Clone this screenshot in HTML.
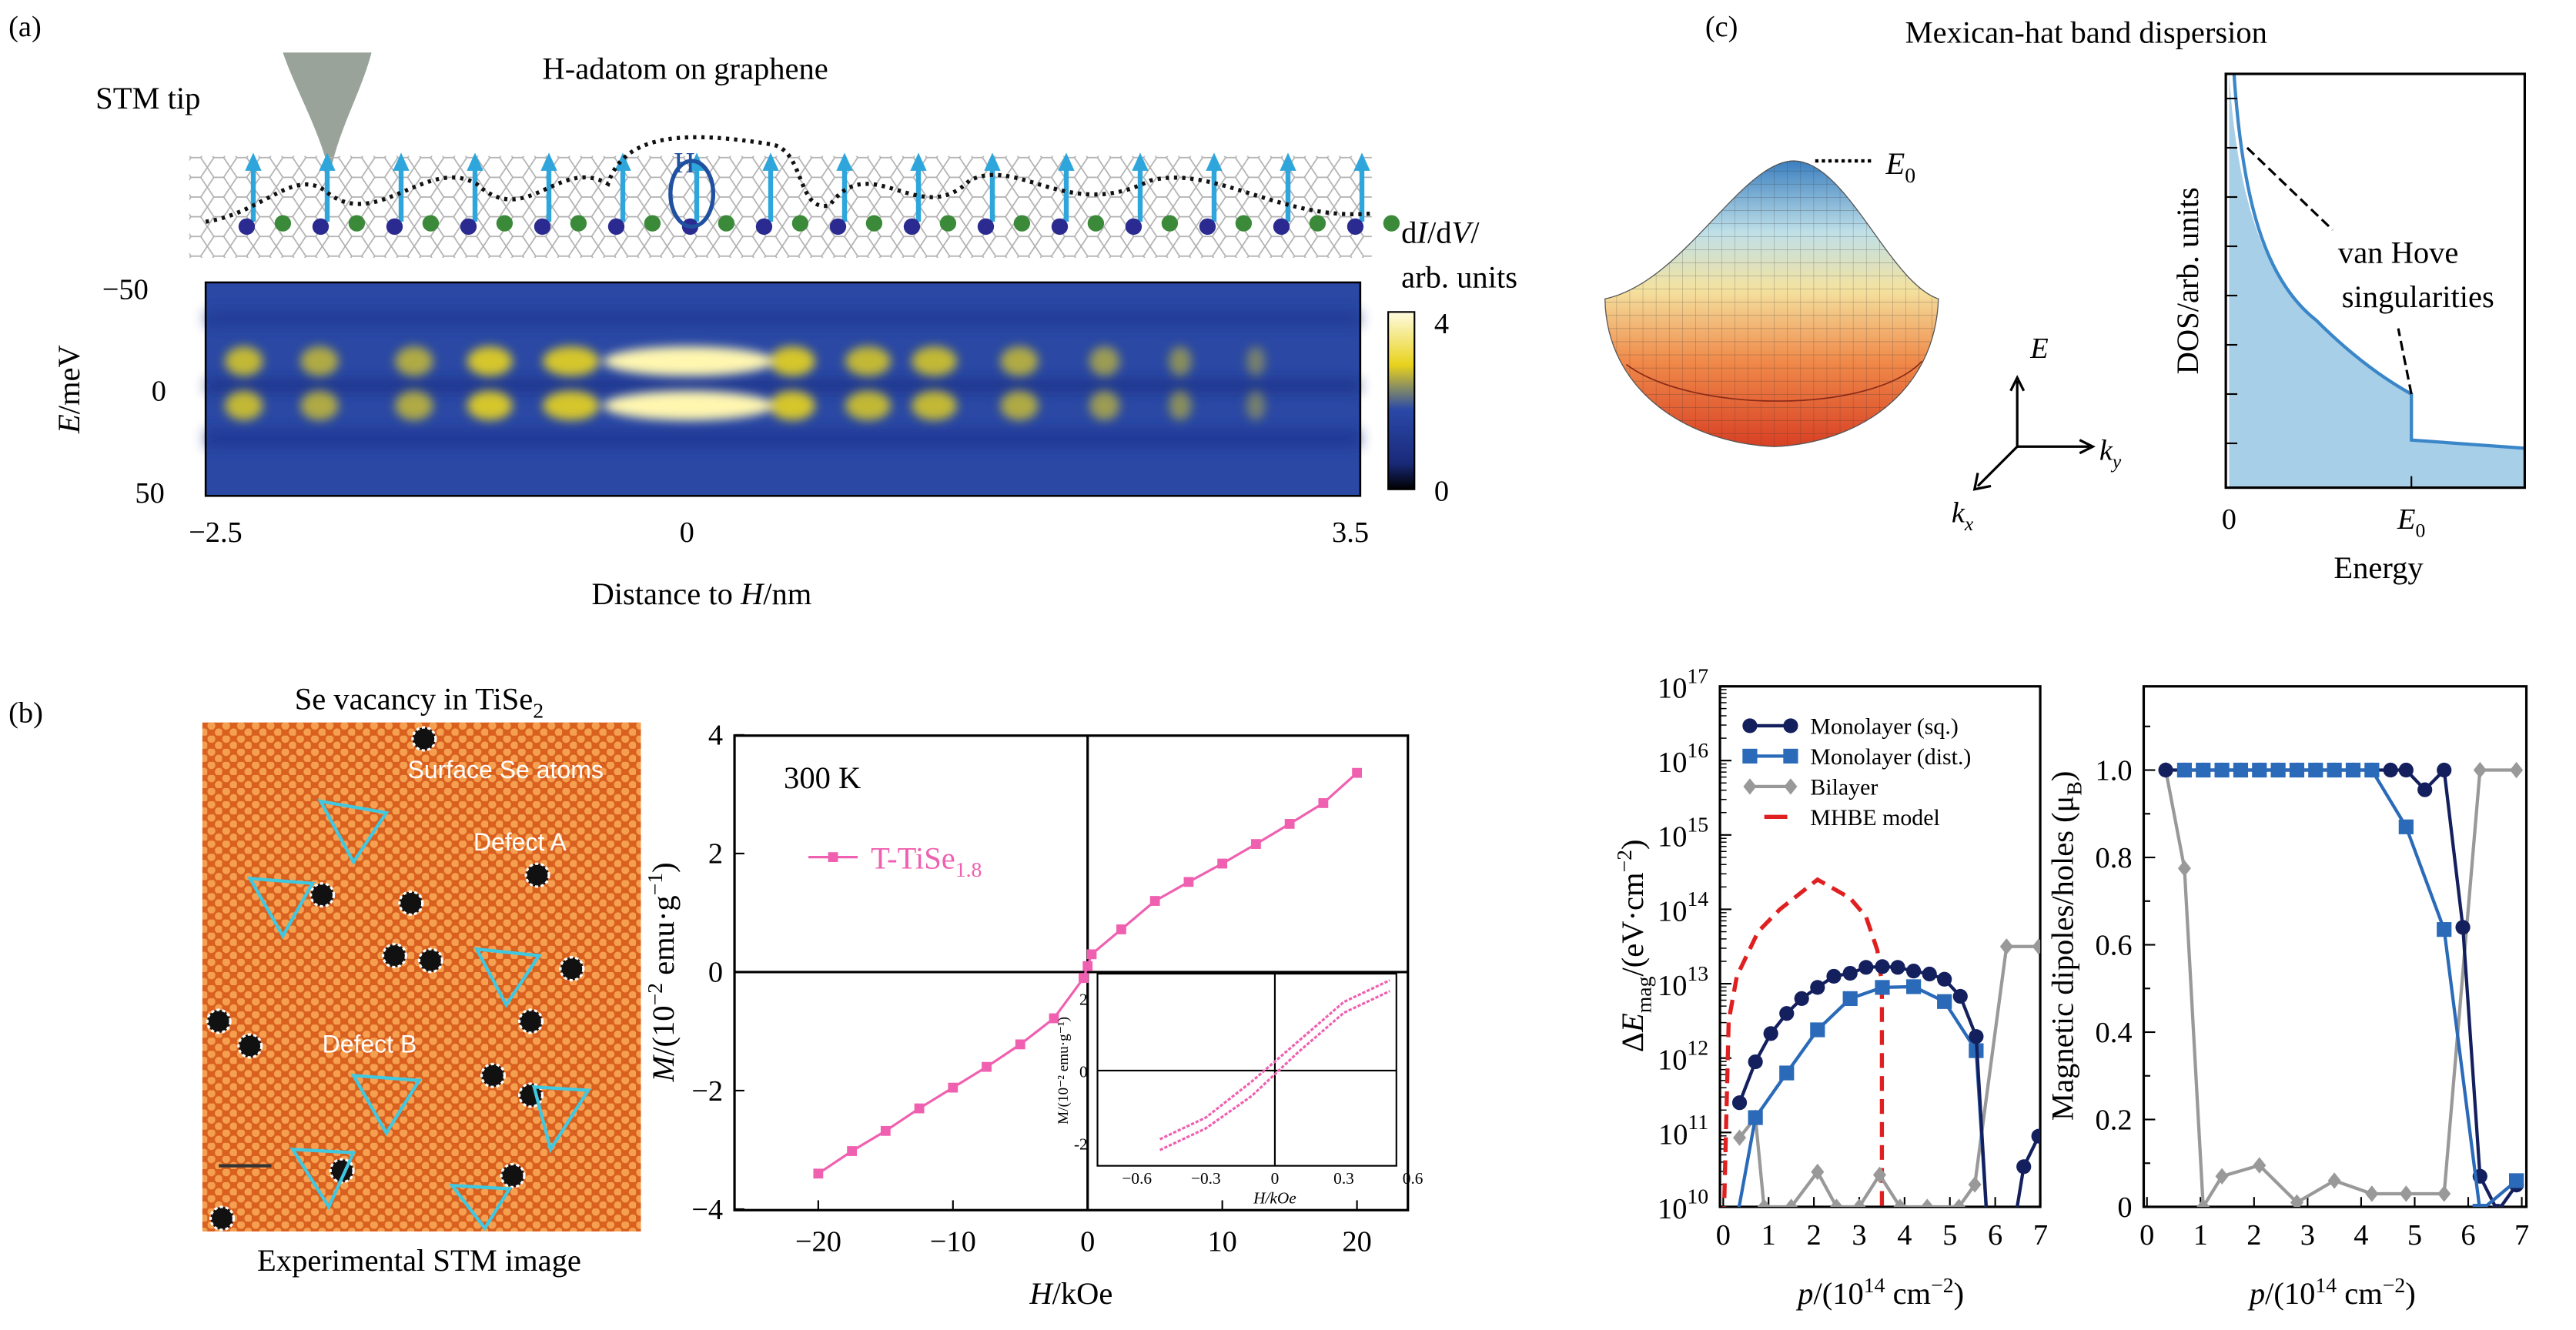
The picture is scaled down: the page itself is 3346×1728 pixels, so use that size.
<!DOCTYPE html>
<html><head><meta charset="utf-8"><style>
html,body{margin:0;padding:0;background:#fff;}
svg{display:block;font-family:"Liberation Serif","DejaVu Serif",serif;}
.s{font-family:"Liberation Sans",sans-serif;}
</style></head><body>
<svg id="fig" width="3346" height="1728" viewBox="0 0 1568 810" xmlns="http://www.w3.org/2000/svg">
<defs>
<filter id="blur" x="-50%" y="-50%" width="200%" height="200%"><feGaussianBlur stdDeviation="3"/></filter>
<filter id="blur2" x="-10%" y="-50%" width="120%" height="200%"><feGaussianBlur stdDeviation="4"/></filter>
<linearGradient id="cbar" x1="0" y1="0" x2="0" y2="1"><stop offset="0" stop-color="#fffbe0"/><stop offset="0.3" stop-color="#e8d21c"/><stop offset="0.55" stop-color="#2a49a8"/><stop offset="0.85" stop-color="#1a2a7a"/><stop offset="1" stop-color="#000"/></linearGradient>
<linearGradient id="hat" x1="0" y1="0" x2="0" y2="1"><stop offset="0" stop-color="#3b7fc0"/><stop offset="0.25" stop-color="#bfe0e8"/><stop offset="0.45" stop-color="#f4e2a0"/><stop offset="0.7" stop-color="#f08a4a"/><stop offset="1" stop-color="#d84024"/></linearGradient>
<pattern id="atoms" width="9" height="8" patternUnits="userSpaceOnUse"><rect width="9" height="8" fill="#d9601e"/><circle cx="2.5" cy="2" r="2.4" fill="#f5a050"/><circle cx="7" cy="6" r="2.4" fill="#f5a050"/></pattern>
<pattern id="hex" width="14" height="12" patternUnits="userSpaceOnUse"><path d="M0 6 L4 0 L10 0 L14 6 L10 12 L4 12 Z" fill="none" stroke="#b0b0b0" stroke-width="0.8"/></pattern>
<pattern id="grid" width="8" height="8" patternUnits="userSpaceOnUse"><path d="M0 0 L8 0 M0 0 L0 8" stroke="#333" stroke-width="0.4" opacity="0.5"/></pattern>
<clipPath id="clipL"><rect x="1047" y="418" width="195" height="317"/></clipPath>
<clipPath id="clipR"><rect x="1305" y="418" width="233" height="317"/></clipPath>
<clipPath id="clipH"><path d="M977 182 C1025 172 1060 98 1092 98 C1124 98 1150 172 1180 182 C1178 240 1130 270 1080 272 C1030 270 978 240 977 182 Z"/></clipPath>
</defs>

<!-- Panel (a) -->
<text x="5" y="22" font-size="18">(a)</text>
<text x="58" y="66" font-size="19">STM tip</text>
<text x="330" y="48" font-size="19">H-adatom on graphene</text>
<path d="M172 32 L226 32 C220 55 208 75 202 100 L199 100 C192 75 180 55 172 32 Z" fill="#9aa39a"/>
<rect x="115" y="95" width="720" height="62" fill="url(#hex)"/>
<g id="adatoms"></g>
<path d="M125 135 C160 130 180 100 200 118 C230 140 260 95 290 112 C320 140 340 95 370 112 C380 80 420 80 470 88 C490 92 485 130 505 125 C530 90 560 140 590 110 C620 95 650 135 700 110 C740 100 780 135 835 130" fill="none" stroke="#111" stroke-width="2.5" stroke-dasharray="2 3"/>
<ellipse cx="421" cy="118" rx="13" ry="20" fill="none" stroke="#2050a0" stroke-width="2.5"/>
<text x="410" y="105" font-size="18" fill="#2050a0">H</text>
<rect x="125" y="172" width="703" height="130" fill="#2a48a4"/>
<g filter="url(#blur2)" opacity="0.7"><rect x="125" y="232" width="703" height="6" fill="#15287a"/><rect x="125" y="262" width="703" height="10" fill="#1a3090"/><rect x="125" y="190" width="703" height="8" fill="#1e3590"/></g>
<g id="blobs" filter="url(#blur)"></g>
<rect x="125" y="172" width="703" height="130" fill="none" stroke="#000" stroke-width="1.2"/>
<text x="62" y="182" font-size="18">−50</text>
<text x="92" y="244" font-size="18">0</text>
<text x="82" y="306" font-size="18">50</text>
<text transform="translate(48,237) rotate(-90)" font-size="19" text-anchor="middle"><tspan font-style="italic">E</tspan>/meV</text>
<text x="131" y="330" font-size="18" text-anchor="middle">−2.5</text>
<text x="418" y="330" font-size="18" text-anchor="middle">0</text>
<text x="822" y="330" font-size="18" text-anchor="middle">3.5</text>
<text x="427" y="368" font-size="19" text-anchor="middle">Distance to <tspan font-style="italic">H</tspan>/nm</text>
<rect x="845" y="190" width="16" height="108" fill="url(#cbar)" stroke="#000"/>
<text x="873" y="203" font-size="18">4</text>
<text x="873" y="305" font-size="18">0</text>
<text x="853" y="148" font-size="19">d<tspan font-style="italic">I</tspan>/d<tspan font-style="italic">V</tspan>/</text>
<text x="853" y="175" font-size="19">arb. units</text>

<!-- Panel (c) top -->
<text x="1038" y="22" font-size="18">(c)</text>
<text x="1270" y="26" font-size="19" text-anchor="middle">Mexican-hat band dispersion</text>
<g>
<path d="M977 182 C1025 172 1060 98 1092 98 C1124 98 1150 172 1180 182 C1178 240 1130 270 1080 272 C1030 270 978 240 977 182 Z" fill="url(#hat)" stroke="#555" stroke-width="0.6"/>
<rect x="970" y="95" width="215" height="180" fill="url(#grid)" clip-path="url(#clipH)"/>
<path d="M990 222 C1030 252 1140 252 1170 220" fill="none" stroke="#8a2a18" stroke-width="0.8"/>
</g>
<line x1="1105" y1="98" x2="1140" y2="98" stroke="#000" stroke-width="2" stroke-dasharray="2 2"/>
<text x="1148" y="106" font-size="19" font-style="italic">E<tspan font-style="normal" font-size="13" dy="5">0</tspan></text>
<g stroke="#000" stroke-width="1.5" fill="none">
<line x1="1228" y1="272" x2="1228" y2="232"/><path d="M1224 238 L1228 230 L1232 238"/>
<line x1="1228" y1="272" x2="1272" y2="272"/><path d="M1266 268 L1274 272 L1266 276"/>
<line x1="1228" y1="272" x2="1204" y2="296"/><path d="M1204 288 L1202 298 L1212 296"/></g>
<text x="1236" y="218" font-size="18" font-style="italic">E</text>
<text x="1278" y="280" font-size="18" font-style="italic">k<tspan font-size="12" dy="5">y</tspan></text>
<text x="1188" y="318" font-size="18" font-style="italic">k<tspan font-size="12" dy="5">x</tspan></text>
<path d="M1357 45 C1362 120 1378 170 1410 195 C1430 215 1450 230 1468 240 L1468 268 L1537 273 L1537 297 L1357 297 Z" fill="#a8cfe8"/>
<path d="M1360 45 C1365 120 1378 170 1410 195 C1430 215 1450 230 1468 240 L1468 268 L1537 273" fill="none" stroke="#3a86c8" stroke-width="2"/>
<rect x="1355" y="45" width="182" height="252" fill="none" stroke="#000" stroke-width="1.5"/>
<g id="dosTicks" stroke="#000"></g>
<path d="M1368 90 L1420 140 M1468 240 L1460 200" stroke="#000" stroke-width="1.5" stroke-dasharray="6 3"/>
<text x="1460" y="160" font-size="19" text-anchor="middle">van Hove</text>
<text x="1472" y="187" font-size="19" text-anchor="middle">singularities</text>
<text x="1357" y="322" font-size="18" text-anchor="middle">0</text>
<text x="1468" y="322" font-size="18" font-style="italic" text-anchor="middle">E<tspan font-style="normal" font-size="12" dy="5">0</tspan></text>
<text x="1448" y="352" font-size="19" text-anchor="middle">Energy</text>
<text transform="translate(1338,171) rotate(-90)" font-size="19" text-anchor="middle">DOS/arb. units</text>

<!-- Panel (b) -->
<text x="5" y="440" font-size="18">(b)</text>
<text x="255" y="432" font-size="19" text-anchor="middle">Se vacancy in TiSe<tspan font-size="13" dy="5">2</tspan></text>
<rect x="123" y="440" width="267" height="310" fill="url(#atoms)"/>
<g id="defects"></g>
<text x="248" y="474" font-size="15" fill="#fff" class="s">Surface Se atoms</text>
<text x="288" y="518" font-size="15" fill="#fff" class="s">Defect A</text>
<text x="196" y="641" font-size="15" fill="#fff" class="s">Defect B</text>
<line x1="133" y1="710" x2="165" y2="710" stroke="#333" stroke-width="2"/>
<text x="255" y="774" font-size="19" text-anchor="middle">Experimental STM image</text>
<g id="mh"></g>

<!-- Panel (c) bottom -->
<g id="elog"></g>
<g id="mag"></g>
</svg>
<script>
const NS="http://www.w3.org/2000/svg";
function mk(tag,attrs,parent){const e=document.createElementNS(NS,tag);for(const k in attrs)e.setAttribute(k,attrs[k]);parent.appendChild(e);return e;}
function tx(parent,x,y,s,fs,anchor){const e=mk('text',{x:x,y:y,'font-size':fs,'text-anchor':anchor||'middle'},parent);e.textContent=s;return e;}

// ---- data ----
const blobX=[-2.35,-1.95,-1.45,-1.05,-0.62,0,0.55,0.95,1.3,1.75,2.2,2.6,3.0];
const blobW=[0.1,0.1,0.1,0.12,0.15,0.45,0.12,0.12,0.12,0.1,0.08,0.06,0.05];
const blobI=[0.8,0.7,0.7,0.9,0.9,1,0.9,0.8,0.8,0.7,0.6,0.5,0.4];
const mhH=[-20,-17.5,-15,-12.5,-10,-7.5,-5,-2.5,-0.3,0,0.3,2.5,5,7.5,10,12.5,15,17.5,20];
const mhM=[-3.4,-3.02,-2.68,-2.3,-1.95,-1.6,-1.22,-0.78,-0.1,0.1,0.3,0.72,1.2,1.52,1.83,2.16,2.5,2.85,3.36];
const mhXTicks=[-20,-10,0,10,20];
const mhYTicks=[-4,-2,0,2,4];
const sqP=[0.36,0.71,1.05,1.4,1.73,2.08,2.44,2.8,3.15,3.51,3.85,4.2,4.55,4.88,5.23,5.58,5.85,6.35,6.63,6.96];
const sqE=[11.4,11.95,12.33,12.6,12.8,12.95,13.1,13.14,13.22,13.23,13.22,13.17,13.13,13.06,12.83,12.29,9.5,9.5,10.54,10.95];
const distP=[0.2,0.71,1.4,2.08,2.8,3.51,4.2,4.88,5.58,5.85];
const distE=[9.5,11.2,11.8,12.38,12.8,12.95,12.96,12.76,12.1,9.5];
const biP=[0.36,0.71,0.9,1.5,2.08,2.5,3.0,3.45,3.9,4.5,5.2,5.55,6.25,6.96];
const biE=[10.93,11.2,10,10,10.47,10,10,10.43,10,10,10,10.3,13.5,13.5];
const mhbeP=[0,0.12,0.3,0.77,1.25,2.08,2.8,3.15,3.4,3.5,3.5];
const mhbeE=[9.5,12.5,13.1,13.7,14.0,14.4,14.15,13.9,13.45,13.0,9.5];
const eTicks=[10,11,12,13,14,15,16,17];
const pTicks=[0,1,2,3,4,5,6,7];
const magSqP=[0.35,0.7,1.05,1.4,1.75,2.1,2.45,2.8,3.15,3.5,3.85,4.2,4.55,4.84,5.19,5.55,5.9,6.22,6.55,6.9];
const magSqV=[1,1,1,1,1,1,1,1,1,1,1,1,1,1,0.955,1,0.64,0.07,-0.01,0.05];
const magDistP=[0.7,1.05,1.4,1.75,2.1,2.45,2.8,3.15,3.5,3.85,4.2,4.84,5.55,6.22,6.9];
const magDistV=[1,1,1,1,1,1,1,1,1,1,1,0.87,0.635,-0.01,0.06];
const magBiP=[0.35,0.7,1.05,1.4,2.1,2.8,3.5,4.2,4.84,5.55,6.22,6.9];
const magBiV=[1,0.775,0.0,0.07,0.095,0.01,0.06,0.03,0.03,0.03,1,1];
const magTicks=[0,0.2,0.4,0.6,0.8,1.0];

// ---- panel a ----
const ax=v=>131+(v+2.5)*(822-131)/6;
const blobs=document.getElementById('blobs');
blobX.forEach((x,i)=>{
  [220,247].forEach(y=>{
    const e=mk('ellipse',{cx:ax(x),cy:y,rx:Math.max(5,blobW[i]*115),ry:9,fill:blobI[i]>0.95?'#fff6b0':'#e8d41c',opacity:blobI[i]},blobs);
    
    
  });
});
const ad=document.getElementById('adatoms');
for(let i=0;i<16;i++){const x=150+i*45;
  const a=mk('line',{x1:x+4,y1:135,x2:x+4,y2:100,stroke:'#2ea6dc','stroke-width':3},ad);
  
  mk('path',{d:`M${x-1} 104 L${x+4} 93 L${x+9} 104 Z`,fill:'#2ea6dc'},ad);
  mk('circle',{cx:x,cy:138,r:5,fill:'#2a2a90'},ad);
  mk('circle',{cx:x+22,cy:136,r:5,fill:'#3a8a3a'},ad);}

// DOS ticks
const dt=document.getElementById('dosTicks');
for(let i=0;i<8;i++){mk('line',{x1:1355,y1:60+i*30,x2:1362,y2:60+i*30},dt);}
mk('line',{x1:1468,y1:297,x2:1468,y2:290},dt);

// STM defects
const df=document.getElementById('defects');
const dots=[[258,450],[196,545],[250,550],[327,533],[240,582],[262,585],[348,590],[133,622],[152,637],[323,622],[300,655],[323,667],[135,742],[208,713],[312,716]];
dots.forEach(d=>{const c=mk('circle',{cx:d[0],cy:d[1],r:7,fill:'#111',stroke:'#fff','stroke-width':1.5,'stroke-dasharray':'2 1.5'},df);
});
const tris=[[195,488,235,495,215,525],[152,535,190,538,172,570],[290,578,328,582,308,612],[215,655,255,658,235,690],[325,662,358,664,335,700],[178,700,215,702,200,735],[275,722,310,724,295,748]];
tris.forEach(t=>{const p=mk('polygon',{points:t.join(' '),fill:'none',stroke:'#40c8e0','stroke-width':2},df);
});

// ---- M-H plot ----
const mh=document.getElementById('mh');
const mx=v=>662+v*8.2, my=v=>592-v*36.1;
mk('rect',{x:447,y:448,width:410,height:289,fill:'none',stroke:'#000','stroke-width':1.5},mh);
mk('line',{x1:447,y1:my(0),x2:857,y2:my(0),stroke:'#000','stroke-width':1.5},mh);
mk('line',{x1:mx(0),y1:448,x2:mx(0),y2:737,stroke:'#000','stroke-width':1.5},mh);
mhXTicks.forEach(t=>{mk('line',{x1:mx(t),y1:737,x2:mx(t),y2:731,stroke:'#000'},mh);
  const e=tx(mh,mx(t),762,t<0?'−'+(-t):''+t,18);});
mhYTicks.forEach(t=>{mk('line',{x1:447,y1:my(t),x2:453,y2:my(t),stroke:'#000'},mh);
  const e=tx(mh,440,my(t)+6,t<0?'−'+(-t):''+t,18,'end');});
const mhl=mk('polyline',{points:mhH.map((h,i)=>mx(h)+','+my(mhM[i])).join(' '),fill:'none',stroke:'#f060b0','stroke-width':1.5},mh);

mhH.forEach((h,i)=>{const r=mk('rect',{x:mx(h)-3,y:my(mhM[i])-3,width:6,height:6,fill:'#f060b0'},mh);
  });
let t=tx(mh,477,480,'300 K',19,'start');
mk('line',{x1:492,y1:522,x2:522,y2:522,stroke:'#f060b0','stroke-width':1.5},mh);mk('rect',{x:504,y:519,width:6,height:6,fill:'#f060b0'},mh);
t=mk('text',{x:530,y:529,'font-size':19,fill:'#f060b0'},mh);t.innerHTML='T-TiSe<tspan font-size="13" dy="5">1.8</tspan>';

t=mk('text',{transform:'translate(410,592) rotate(-90)','font-size':19,'text-anchor':'middle'},mh);
t.innerHTML='<tspan font-style="italic">M</tspan>/(10<tspan font-size="13" dy="-7">−2</tspan><tspan dy="7"> emu·g</tspan><tspan font-size="13" dy="-7">−1</tspan><tspan dy="7">)</tspan>';

t=mk('text',{x:652,y:794,'font-size':19,'text-anchor':'middle'},mh);t.innerHTML='<tspan font-style="italic">H</tspan>/kOe';

// inset
const ins=mk('g',{},mh);
mk('rect',{x:668,y:593,width:182,height:117,fill:'#fff',stroke:'#000'},ins);
const ix=v=>776+v*140, iy=v=>652-v*22;
mk('line',{x1:668,y1:iy(0),x2:850,y2:iy(0),stroke:'#000'},ins);mk('line',{x1:ix(0),y1:593,x2:ix(0),y2:710,stroke:'#000'},ins);
const insX=[-0.5,-0.3,-0.1,0.1,0.3,0.5];
const insUp=[-2.2,-1.6,-0.7,0.5,1.6,2.2];
const insDn=[-1.9,-1.3,-0.3,0.8,1.9,2.5];
mk('polyline',{points:insX.map((x,i)=>ix(x)+','+iy(insUp[i])).join(' '),fill:'none',stroke:'#f060b0','stroke-width':1.5,'stroke-dasharray':'2 1'},ins);
mk('polyline',{points:insX.map((x,i)=>ix(x)+','+iy(insDn[i])).join(' '),fill:'none',stroke:'#f060b0','stroke-width':1.5,'stroke-dasharray':'2 1'},ins);
[-0.6,-0.3,0,0.3,0.6].forEach(v=>tx(ins,ix(v),721,v<0?'−'+(-v):''+v,10));
[-2,0,2].forEach(v=>tx(ins,662,iy(v)+4,''+v,10,'end'));
tx(ins,776,733,'H/kOe',10).setAttribute('font-style','italic');
t=mk('text',{transform:'translate(650,652) rotate(-90)','font-size':9,'text-anchor':'middle'},ins);t.textContent='M/(10⁻² emu·g⁻¹)';

// ---- log E plot ----
const el=document.getElementById('elog');
const lx=p=>1049+p*27.6, ly=v=>735-(v-10)*45.3;
mk('rect',{x:1047,y:418,width:195,height:317,fill:'none',stroke:'#000','stroke-width':1.5},el);
eTicks.forEach(v=>{mk('line',{x1:1047,y1:ly(v),x2:1054,y2:ly(v),stroke:'#000'},el);
  if(v<17)for(let k=2;k<10;k++){const y=ly(v+Math.log10(k));mk('line',{x1:1047,y1:y,x2:1051,y2:y,stroke:'#000','stroke-width':0.7},el);}
  const e=mk('text',{x:1040,y:ly(v)+7,'font-size':18,'text-anchor':'end'},el);e.innerHTML='10<tspan font-size="13" dy="-9">'+v+'</tspan>';
  });
pTicks.forEach(p=>{mk('line',{x1:lx(p),y1:735,x2:lx(p),y2:729,stroke:'#000'},el);
  const e=tx(el,lx(p),758,''+p,18);});
const ec=mk('g',{'clip-path':'url(#clipL)'},el);
function series(g,P,V,fx,fy,col,marker,name,dash){
  const l=mk('polyline',{points:P.map((p,i)=>fx(p)+','+fy(V[i])).join(' '),fill:'none',stroke:col,'stroke-width':dash?2.5:2},g);
  if(dash)l.setAttribute('stroke-dasharray',dash);
  
  if(!marker)return;
  P.forEach((p,i)=>{const x=fx(p),y=fy(V[i]);let m;
    if(marker==='c')m=mk('circle',{cx:x,cy:y,r:4.5,fill:col},g);
    else if(marker==='s')m=mk('rect',{x:x-4.5,y:y-4.5,width:9,height:9,fill:col},g);
    else m=mk('path',{d:`M${x} ${y-5} L${x+4} ${y} L${x} ${y+5} L${x-4} ${y} Z`,fill:col},g);
    });}
series(ec,mhbeP,mhbeE,lx,ly,'#e02020',null,'mhbe-curve','9 5');
series(ec,biP,biE,lx,ly,'#999','d','bilayer');
series(ec,distP,distE,lx,ly,'#2a6ab8','s','monolayer-dist');
series(ec,sqP,sqE,lx,ly,'#14205e','c','monolayer-sq');
// legend
const lg=mk('g',{},el);
const lgI=[['#14205e','c','Monolayer (sq.)'],['#2a6ab8','s','Monolayer (dist.)'],['#999','d','Bilayer'],['#e02020',null,'MHBE model']];
lgI.forEach((it,i)=>{const y=442+i*18.5;
  if(it[1])series(lg,[0.95,1.85],[0,0],p=>1049+p*27.6-10,()=>y,it[0],it[1],'legend-entry');
  else mk('line',{x1:1074,y1:y,x2:1088,y2:y,stroke:it[0],'stroke-width':2.5},lg);
  const e=tx(lg,1102,y+5,it[2],14,'start');});
t=mk('text',{transform:'translate(1000,576) rotate(-90)','font-size':19,'text-anchor':'middle'},el);
t.innerHTML='Δ<tspan font-style="italic">E</tspan><tspan font-size="13" dy="5">mag</tspan><tspan dy="-5">/(eV·cm</tspan><tspan font-size="13" dy="-7">−2</tspan><tspan dy="7">)</tspan>';

t=mk('text',{x:1145,y:794,'font-size':19,'text-anchor':'middle'},el);
t.innerHTML='<tspan font-style="italic">p</tspan>/(10<tspan font-size="13" dy="-7">14</tspan><tspan dy="7"> cm</tspan><tspan font-size="13" dy="-7">−2</tspan><tspan dy="7">)</tspan>';


// ---- magnetic dipoles plot ----
const mg=document.getElementById('mag');
const rx=p=>1307+p*32.6, ry=v=>735-v*266;
mk('rect',{x:1305,y:418,width:233,height:317,fill:'none',stroke:'#000','stroke-width':1.5},mg);
magTicks.forEach(v=>{mk('line',{x1:1305,y1:ry(v),x2:1312,y2:ry(v),stroke:'#000'},mg);
  mk('line',{x1:1305,y1:ry(v+0.1),x2:1309,y2:ry(v+0.1),stroke:'#000'},mg);
  const e=tx(mg,1298,ry(v)+6,v===0?'0':v.toFixed(1),18,'end');});
pTicks.forEach(p=>{mk('line',{x1:rx(p),y1:735,x2:rx(p),y2:729,stroke:'#000'},mg);
  const e=tx(mg,rx(p),758,''+p,18);});
const mc=mk('g',{'clip-path':'url(#clipR)'},mg);
series(mc,magBiP,magBiV,rx,ry,'#999','d','mag-bilayer');
series(mc,magSqP,magSqV,rx,ry,'#14205e','c','mag-monolayer-sq');
series(mc,magDistP,magDistV,rx,ry,'#2a6ab8','s','mag-monolayer-dist');
t=mk('text',{transform:'translate(1262,576) rotate(-90)','font-size':19,'text-anchor':'middle'},mg);
t.innerHTML='Magnetic dipoles/holes (μ<tspan font-size="13" dy="5">B</tspan><tspan dy="-5">)</tspan>';

t=mk('text',{x:1420,y:794,'font-size':19,'text-anchor':'middle'},mg);
t.innerHTML='<tspan font-style="italic">p</tspan>/(10<tspan font-size="13" dy="-7">14</tspan><tspan dy="7"> cm</tspan><tspan font-size="13" dy="-7">−2</tspan><tspan dy="7">)</tspan>';

</script>
</body></html>
